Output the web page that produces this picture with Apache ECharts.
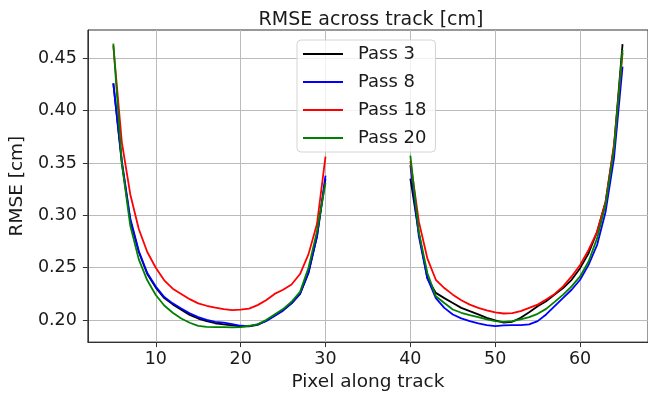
<!DOCTYPE html>
<html>
<head>
<meta charset="utf-8"/>
<title>RMSE across track</title>
<script type="text/javascript" src="https://cdn.jsdelivr.net/npm/echarts@6/dist/echarts.min.js"></script>
<style type="text/css">
	body{
		margin: 0px;
		padding: 0px;
		background-color: #fff;
	}
	#chart {
		width: 648px;
		height: 397px;
	}
</style>
</head>
<body>
	<div id="chart"></div>
<script type="text/javascript">
	// pixel positions along track (two segments)
	var x_left = [5,6,7,8,9,10,11,12,13,14,15,16,17,18,19,20,21,22,23,24,25,26,27,28,29,30];
	var x_right = [40,41,42,43,44,45,46,47,48,49,50,51,52,53,54,55,56,57,58,59,60,61,62,63,64,65];
	// tick labels
	var x_ticks = [10, 20, 30, 40, 50, 60];
	var y_ticks = [0.20, 0.25, 0.30, 0.35, 0.40, 0.45];
	// RMSE values [cm]
	var pass3_left = [0.426,0.35,0.295,0.265,0.244,0.231,0.221,0.215,0.21,0.205,0.2015,0.199,0.197,0.196,0.195,0.194,0.194,0.1955,0.1995,0.2045,0.2095,0.216,0.225,0.245,0.28,0.335];
	var pass3_right = [0.335,0.283,0.24,0.226,0.221,0.2164,0.2117,0.2085,0.2054,0.2022,0.1997,0.1975,0.1984,0.2022,0.2076,0.2133,0.218,0.2243,0.2306,0.2385,0.2496,0.2638,0.2843,0.3128,0.366,0.4635];
	var pass8_left = [0.426,0.352,0.297,0.266,0.245,0.232,0.222,0.216,0.211,0.2065,0.2029,0.2003,0.1984,0.1975,0.1962,0.1946,0.1943,0.1959,0.199,0.204,0.209,0.216,0.225,0.246,0.28,0.338];
	var pass8_right = [0.348,0.28,0.24,0.221,0.2117,0.2054,0.2016,0.199,0.1968,0.1953,0.1943,0.195,0.1953,0.1953,0.1959,0.199,0.2054,0.2133,0.2212,0.229,0.2385,0.2527,0.2717,0.3033,0.355,0.442];
	var pass18_left = [0.462,0.37,0.32,0.287,0.265,0.25,0.238,0.23,0.225,0.22,0.216,0.2137,0.212,0.2105,0.2096,0.21,0.211,0.2143,0.219,0.225,0.229,0.234,0.244,0.263,0.292,0.356];
	var pass18_right = [0.352,0.294,0.259,0.2385,0.2306,0.2243,0.219,0.2148,0.2117,0.2092,0.2073,0.2063,0.2066,0.2085,0.2117,0.2148,0.2196,0.225,0.2322,0.2417,0.2527,0.267,0.2843,0.3128,0.368,0.455];
	var pass20_left = [0.464,0.35,0.29,0.258,0.238,0.224,0.214,0.207,0.2015,0.1975,0.1945,0.1935,0.1933,0.1933,0.193,0.1933,0.1946,0.196,0.2,0.2054,0.2105,0.2175,0.227,0.25,0.285,0.331];
	var pass20_right = [0.357,0.284,0.245,0.2227,0.2164,0.2101,0.207,0.2047,0.2028,0.2006,0.199,0.1984,0.199,0.2006,0.2028,0.206,0.2107,0.2174,0.2243,0.2322,0.2417,0.256,0.278,0.31,0.364,0.458];

	var font = 'DejaVu Sans';

	// join both segments, with a gap between 30 and 40
	function makeData(left, right){
		var data = [];
		for(var i=0;i<x_left.length;i++){
			data.push([x_left[i], left[i]]);
		}
		data.push([35, '-']);
		for(var j=0;j<x_right.length;j++){
			data.push([x_right[j], right[j]]);
		}
		return data;
	}

	function lineSeries(name, color, left, right){
		return {
			name: name,
			type: 'line',
			showSymbol: false,
			symbol: 'none',
			connectNulls: false,
			lineStyle: {
				color: color,
				width: 1.8
			},
			itemStyle: {
				color: color
			},
			data: makeData(left, right)
		};
	}

	var myChart = echarts.init(document.getElementById('chart'));
	var option = {
		animation: false,
		title: {
			text: 'RMSE across track [cm]',
			left: 366,
			textAlign: 'center',
			top: 6,
			textStyle: {
				fontFamily: font,
				fontSize: 19,
				fontWeight: 'normal',
				color: '#1a1a1a'
			}
		},
		legend: {
			orient: 'vertical',
			left: 297,
			top: 40,
			padding: [5, 9, 5, 6],
			itemGap: 10,
			itemWidth: 40,
			itemHeight: 2,
			icon: 'rect',
			backgroundColor: 'rgba(255,255,255,0.8)',
			borderColor: '#d4d4d4',
			borderWidth: 1,
			borderRadius: 4,
			textStyle: {
				fontFamily: font,
				fontSize: 18,
				lineHeight: 18,
				color: '#1a1a1a',
				padding: [0, 0, 0, 10]
			},
			data: ['Pass 3', 'Pass 8', 'Pass 18', 'Pass 20']
		},
		grid: {
			left: 84,
			top: 30,
			width: 568,
			height: 314,
			show: true,
			borderColor: '#333',
			borderWidth: 1
		},
		xAxis: {
			type: 'value',
			min: 2,
			max: 68,
			name: 'Pixel along track',
			nameLocation: 'middle',
			nameGap: 29,
			nameTextStyle: {
				fontFamily: font,
				fontSize: 18.5,
				color: '#1a1a1a'
			},
			axisLine: {
				lineStyle: { color: '#333', width: 1 }
			},
			axisTick: {
				show: true,
				length: 5,
				customValues: x_ticks,
				lineStyle: { color: '#333' }
			},
			axisLabel: {
				customValues: x_ticks,
				margin: 8,
				fontFamily: font,
				fontSize: 17.5,
				color: '#1a1a1a'
			},
			splitLine: {
				show: true,
				lineStyle: { color: '#bbbbbb', width: 1 }
			}
		},
		yAxis: {
			type: 'value',
			min: 0.179,
			max: 0.477,
			name: 'RMSE [cm]',
			nameLocation: 'middle',
			nameRotate: 90,
			nameGap: 56,
			nameTextStyle: {
				fontFamily: font,
				fontSize: 18.5,
				color: '#1a1a1a'
			},
			axisLine: {
				show: true,
				lineStyle: { color: '#333', width: 1 }
			},
			axisTick: {
				show: true,
				length: 5,
				customValues: y_ticks,
				lineStyle: { color: '#333' }
			},
			axisLabel: {
				customValues: y_ticks,
				margin: 11,
				fontFamily: font,
				fontSize: 17.5,
				color: '#1a1a1a',
				formatter: function(v){ return v.toFixed(2); }
			},
			splitLine: {
				show: true,
				lineStyle: { color: '#bbbbbb', width: 1 }
			}
		},
		series: [
			lineSeries('Pass 3', '#000000', pass3_left, pass3_right),
			lineSeries('Pass 8', '#0000ff', pass8_left, pass8_right),
			lineSeries('Pass 18', '#ff0000', pass18_left, pass18_right),
			lineSeries('Pass 20', '#008000', pass20_left, pass20_right)
		]
	};
	myChart.setOption(option);
</script>
</body>
</html>
